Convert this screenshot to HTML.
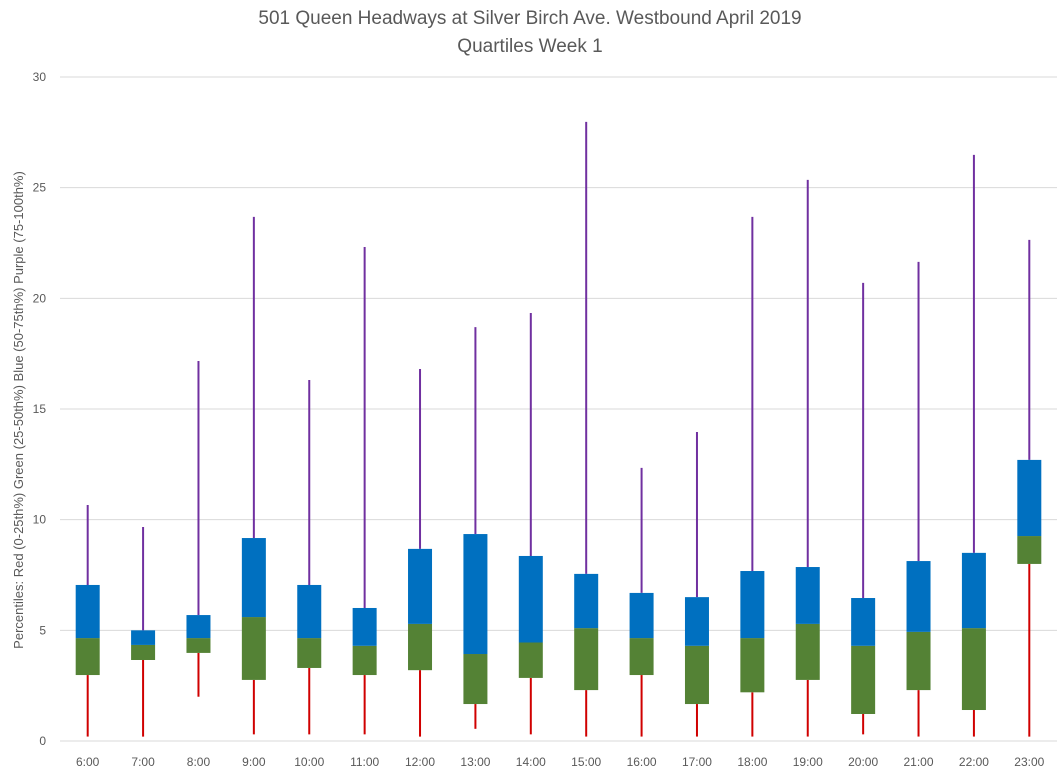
<!DOCTYPE html>
<html><head><meta charset="utf-8"><style>
body{margin:0;background:#fff;font-family:"Liberation Sans",sans-serif;}
svg text{font-family:"Liberation Sans",sans-serif;}
</style></head><body>
<svg id="chart" width="1060" height="776">
<text x="530" y="24" text-anchor="middle" font-size="19" fill="#595959">501 Queen Headways at Silver Birch Ave. Westbound April 2019</text>
<text x="530" y="52" text-anchor="middle" font-size="19" fill="#595959">Quartiles Week 1</text>
<text transform="translate(23,410) rotate(-90)" text-anchor="middle" font-size="13" fill="#595959">Percentiles:  Red (0-25th%)  Green (25-50th%)  Blue (50-75th%)  Purple (75-100th%)</text>
<g id="grid"></g><g id="marks"></g><g id="xl"></g>
</svg>
<script>
const categories=["6:00","7:00","8:00","9:00","10:00","11:00","12:00","13:00","14:00","15:00","16:00","17:00","18:00","19:00","20:00","21:00","22:00","23:00"];
const minVals=[0.2,0.2,2.0,0.3,0.3,0.3,0.2,0.55,0.3,0.2,0.2,0.2,0.2,0.2,0.3,0.2,0.2,0.2];
const q1Vals=[2.98,3.66,3.98,2.76,3.3,2.98,3.2,1.67,2.85,2.3,2.98,1.67,2.2,2.76,1.22,2.3,1.4,8.0];
const medVals=[4.65,4.34,4.65,5.6,4.65,4.3,5.29,3.93,4.45,5.1,4.65,4.3,4.65,5.29,4.3,4.93,5.1,9.26];
const q3Vals=[7.05,5.0,5.69,9.17,7.05,6.01,8.68,9.35,8.36,7.55,6.69,6.5,7.68,7.86,6.46,8.13,8.5,12.7];
const maxVals=[10.66,9.67,17.17,23.68,16.31,22.32,16.81,18.7,19.34,27.97,12.34,13.96,23.68,25.35,20.7,21.65,26.48,22.64];
const yTicks=[0,5,10,15,20,25,30];
const NS="http://www.w3.org/2000/svg";
const L=60,R=1057,T=77,B=741;
const y=v=>B-(v/30)*(B-T);
const step=(R-L)/categories.length;
const x=i=>L+step*(i+0.5);
function mk(tag,attrs,parent){const e=document.createElementNS(NS,tag);for(const k in attrs)e.setAttribute(k,attrs[k]);document.getElementById(parent).appendChild(e);return e;}
yTicks.forEach(t=>{
 const l=mk('line',{x1:L,x2:R,y1:y(t),y2:y(t),stroke:'#d9d9d9','stroke-width':1},'grid');
 
 
 const tx=mk('text',{x:46,y:y(t)+4,'text-anchor':'end','font-size':12,fill:'#595959'},'grid');
 tx.textContent=t;
 
 
});
const bw=24;
categories.forEach((c,i)=>{
 const cx=x(i);
 const lo=mk('line',{x1:cx,x2:cx,y1:y(minVals[i]),y2:y(q1Vals[i]),stroke:'#d00000','stroke-width':2},'marks');
 
 
 const hi=mk('line',{x1:cx,x2:cx,y1:y(maxVals[i]),y2:y(q3Vals[i]),stroke:'#7030a0','stroke-width':2},'marks');
 
 
 const g=mk('rect',{x:cx-bw/2,width:bw,y:y(medVals[i]),height:y(q1Vals[i])-y(medVals[i]),fill:'#548235'},'marks');
 
 
 const b=mk('rect',{x:cx-bw/2,width:bw,y:y(q3Vals[i]),height:y(medVals[i])-y(q3Vals[i]),fill:'#0070c0'},'marks');
 
 
 const t=mk('text',{x:cx,y:766,'text-anchor':'middle','font-size':12,fill:'#595959'},'xl');
 t.textContent=c;
 
 
});
</script>
</body></html>
